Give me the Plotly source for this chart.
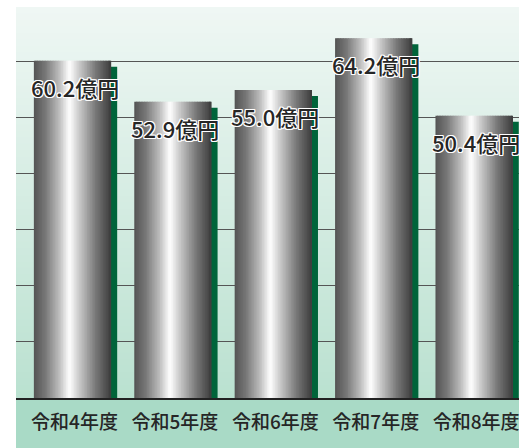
import plotly.graph_objects as go

categories = ["令和4年度", "令和5年度", "令和6年度", "令和7年度", "令和8年度"]
values = [60.2, 52.9, 55.0, 64.2, 50.4]
labels = ["60.2億円", "52.9億円", "55.0億円", "64.2億円", "50.4億円"]

W = 0.77            # bar width in category units
N = 48              # number of stripes used for the metallic gradient
PX_X = 100.4        # px per category unit (approx)
Y_MAX = 69.8
PX_Y = 391 / Y_MAX  # px per value unit

def lerp(c1, c2, t):
    return tuple(round(a + (b - a) * t) for a, b in zip(c1, c2))

def grad(stops, t):
    for (p0, c0), (p1, c1) in zip(stops, stops[1:]):
        if p0 <= t <= p1:
            return lerp(c0, c1, (t - p0) / (p1 - p0) if p1 > p0 else 0)
    return stops[-1][1]

bar_stops = [
    (0.0, (84, 84, 84)),
    (0.15, (120, 120, 120)),
    (0.33, (190, 190, 190)),
    (0.46, (255, 255, 255)),
    (0.6, (196, 196, 196)),
    (0.8, (120, 120, 120)),
    (1.0, (60, 60, 60)),
]

fig = go.Figure()

# shadow (dark green, offset right and down)
sx = 6 / PX_X
sy = 6 / PX_Y
fig.add_trace(go.Bar(
    x=categories, y=[v - sy for v in values],
    offset=-W / 2 + sx, width=W,
    marker=dict(color="#00643a", line=dict(width=0)),
    hoverinfo="skip", showlegend=False,
))

# metallic bars as vertical stripes
for k in range(N):
    t = (k + 0.5) / N
    r, g, b = grad(bar_stops, t)
    w = W / N
    fig.add_trace(go.Bar(
        x=categories, y=values,
        offset=-W / 2 + k * w, width=w * (1.6 if k < N - 1 else 1.0),
        marker=dict(color=f"rgb({r},{g},{b})", line=dict(width=0)),
        hoverinfo="skip", showlegend=False,
    ))

# value labels
halo = ", ".join(f"{dx}px {dy}px 0 #fff" for dx in (-1, 0, 1) for dy in (-1, 0, 1) if dx or dy)
for c, v, lab in zip(categories, values, labels):
    fig.add_annotation(
        x=c, y=v, text=lab, showarrow=False, yshift=-26, xshift=2,
        font=dict(family="Noto Sans CJK JP", size=22, color="#262626",
                  weight=500, shadow=halo),
    )

# background gradient (plot area) and label band
shapes = []
NB = 60
top_c = (239, 247, 244)
bot_c = (186, 225, 208)
for k in range(NB):
    t = k / NB
    r, g, b = lerp(top_c, bot_c, (k + 0.5) / NB)
    y1 = 1 - t
    y0 = max(0, 1 - (k + 1) / NB - 0.004)
    shapes.append(dict(type="rect", xref="paper", yref="paper", x0=0, x1=1,
                       y0=y0, y1=y1, fillcolor=f"rgb({r},{g},{b})",
                       line=dict(width=0), layer="below"))
shapes.append(dict(type="rect", xref="paper", yref="paper", x0=0, x1=1,
                   y0=-50 / 391, y1=0, fillcolor="#a9dac6",
                   line=dict(width=0), layer="below"))

fig.update_layout(
    width=519, height=448,
    margin=dict(l=16, r=0, t=7, b=50),
    barmode="overlay",
    paper_bgcolor="white",
    plot_bgcolor="rgba(0,0,0,0)",
    shapes=shapes,
    showlegend=False,
    xaxis=dict(
        type="category", range=[-0.563, 4.447],
        showline=True, linecolor="#222222", linewidth=2,
        showgrid=False, ticks="", ticklabelstandoff=6, ticklabelshift=2,
        tickfont=dict(family="Noto Sans CJK JP", size=19, color="#262626", weight=500),
        fixedrange=True,
    ),
    yaxis=dict(
        range=[0, Y_MAX], dtick=10, showticklabels=False,
        showgrid=True, gridcolor="#555555", gridwidth=1,
        zeroline=False, fixedrange=True,
    ),
)

fig.write_html("out.html", config={"displayModeBar": False},
               post_script="document.body.style.margin='0';document.body.style.padding='0';")
